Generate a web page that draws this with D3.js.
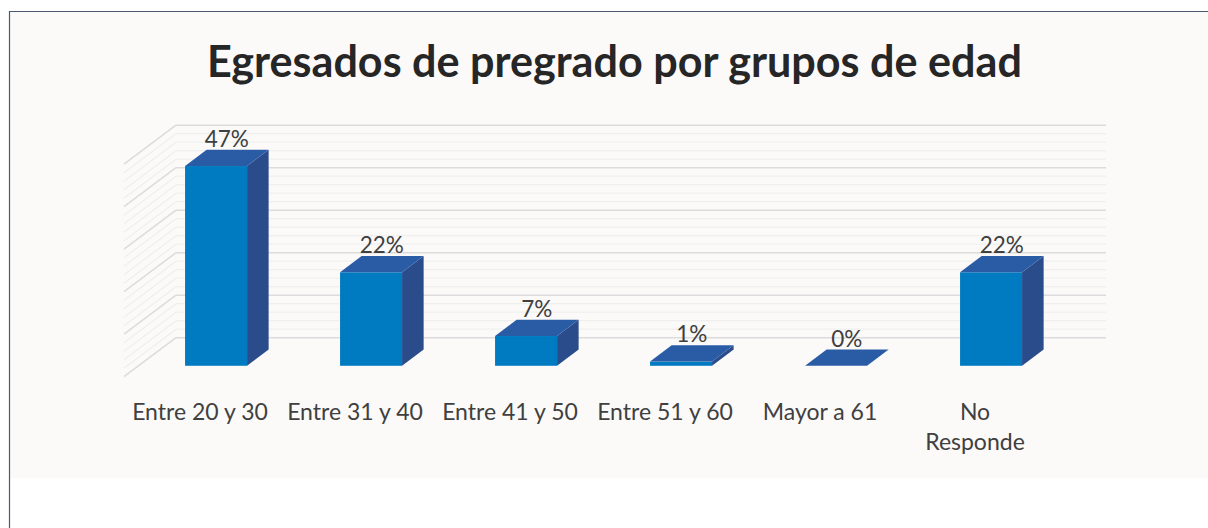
<!DOCTYPE html>
<html>
<head>
<meta charset="utf-8">
<script src="https://cdn.jsdelivr.net/npm/d3@7"></script>
<style>
  body { margin: 0; background: #ffffff; }
  svg { display: block; }
</style>
</head>
<body>
<svg width="1208" height="528"></svg>
<script>
// datos del grafico
var categorias = ["Entre 20 y 30", "Entre 31 y 40", "Entre 41 y 50", "Entre 51 y 60", "Mayor a 61", "No Responde"];
var valores = [47, 22, 7, 1, 0, 22];
var etiquetas = ["47%", "22%", "7%", "1%", "0%", "22%"];
var titulo = "Egresados de pregrado por grupos de edad";

var svg = d3.select("svg");

// marco y fondo
svg.append("rect").attr("x", 9).attr("y", 11).attr("width", 1199).attr("height", 467).attr("fill", "#fbfaf9");
svg.append("line").attr("x1", 9.5).attr("y1", 11).attr("x2", 9.5).attr("y2", 528).attr("stroke", "#4a5870").attr("stroke-width", 1.2);
svg.append("line").attr("x1", 9).attr("y1", 11.5).attr("x2", 1208).attr("y2", 11.5).attr("stroke", "#4a5870").attr("stroke-width", 1.2);

// escalas (plano frontal del piso)
var baseY = 376.7;
var prof = [52, -39];     // del frente del piso a la pared del fondo
var frente = 0.28, fondo = 0.695;  // profundidad de las barras

var x = d3.scaleBand().domain(categorias).range([124, 1054]).paddingInner(0.6).paddingOuter(0.3);
var y = d3.scaleLinear().domain([0, 50]).range([0, 212.5]);

// paredes: lineas de cuadricula
var g = svg.append("g");
var ticks = d3.range(0, 51, 2);
ticks.forEach(function (v) {
  var mayor = v % 10 === 0;
  var col = mayor ? "#dcdcdf" : "#efefef";
  var yFront = baseY - y(v);
  var yBack = yFront + prof[1];
  // pared izquierda
  g.append("line").attr("x1", 124).attr("y1", yFront).attr("x2", 124 + prof[0]).attr("y2", yBack)
    .attr("stroke", col).attr("stroke-width", mayor ? 1.5 : 1.2);
  // pared del fondo
  g.append("line").attr("x1", 124 + prof[0]).attr("y1", yBack).attr("x2", 1054 + prof[0]).attr("y2", yBack)
    .attr("stroke", col).attr("stroke-width", mayor ? 1.5 : 1.2);
});

// barras 3D
var bars = svg.append("g");
categorias.forEach(function (c, i) {
  var x0 = x(c) + prof[0] * frente;
  var x1 = x0 + x.bandwidth();
  var yb = baseY + prof[1] * frente;
  var yt = yb - y(valores[i]);
  var dx = prof[0] * (fondo - frente);
  var dy = prof[1] * (fondo - frente);

  // lado derecho
  bars.append("path")
    .attr("d", "M" + x1 + "," + yt + "L" + (x1 + dx) + "," + (yt + dy) + "L" + (x1 + dx) + "," + (yb + dy) + "L" + x1 + "," + yb + "Z")
    .attr("fill", "#2b4c8b");
  // frente
  bars.append("rect").attr("x", x0).attr("y", yt).attr("width", x1 - x0).attr("height", yb - yt)
    .attr("fill", "#007ac0");
  // tapa
  bars.append("path")
    .attr("d", "M" + x0 + "," + yt + "L" + x1 + "," + yt + "L" + (x1 + dx) + "," + (yt + dy) + "L" + (x0 + dx) + "," + (yt + dy) + "Z")
    .attr("fill", "#2a5ca6");

  // etiqueta de valor
  svg.append("text")
    .attr("x", (x0 + x1) / 2 + dx / 2)
    .attr("y", yt + dy - 3)
    .attr("text-anchor", "middle")
    .attr("font-family", "Lato, 'Open Sans', sans-serif")
    .attr("font-size", 22.5)
    .attr("fill", "#404040")
    .text(etiquetas[i]);
});

// etiquetas del eje
var eje = svg.append("g");
categorias.forEach(function (c) {
  var cx = x(c) + x.bandwidth() / 2 - 1.5;
  var t = eje.append("text")
    .attr("x", cx).attr("y", 419.5)
    .attr("text-anchor", "middle")
    .attr("font-family", "Lato, 'Open Sans', sans-serif")
    .attr("font-size", 23)
    .attr("fill", "#404040");
  if (c === "No Responde") {
    t.append("tspan").attr("x", cx).text("No");
    t.append("tspan").attr("x", cx).attr("dy", 30).text("Responde");
  } else {
    t.text(c);
  }
});

// titulo
var tt = svg.append("text")
  .attr("x", 614.5).attr("y", 77)
  .attr("text-anchor", "middle")
  .attr("font-family", "Lato, 'Open Sans', sans-serif")
  .attr("font-weight", "bold")
  .attr("font-size", 44)
  .attr("fill", "#262626")
  .text(titulo);
var w = tt.node().getComputedTextLength();
tt.attr("font-size", 44 * 815 / w);
</script>
</body>
</html>
